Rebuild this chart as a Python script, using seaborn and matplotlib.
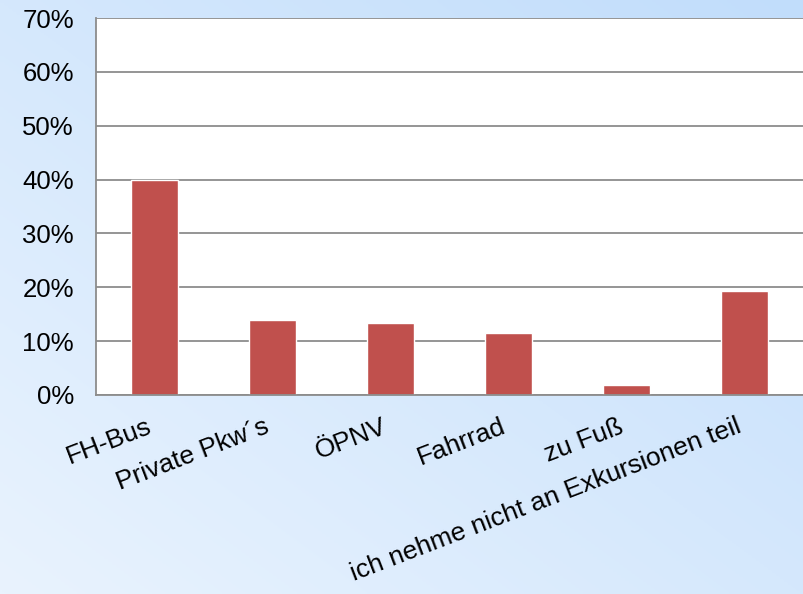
import numpy as np
import pandas as pd
import seaborn as sns
import matplotlib.pyplot as plt
from matplotlib.colors import LinearSegmentedColormap
from matplotlib.ticker import PercentFormatter, FixedLocator

# Verkehrsmittel zu den Exkursionen
categories = [
    "FH-Bus",
    "Private Pkw´s",
    "ÖPNV",
    "Fahrrad",
    "zu Fuß",
    "ich nehme nicht an Exkursionen teil",
]
shares = [40.0, 13.9, 13.3, 11.6, 1.8, 19.3]

df = pd.DataFrame({"Kategorie": categories, "Anteil": shares})

sns.set_style("white")
plt.rcParams["font.family"] = ["Liberation Sans", "DejaVu Sans"]
plt.rcParams["font.size"] = 19
plt.rcParams["text.color"] = "black"
plt.rcParams["xtick.color"] = "black"
plt.rcParams["ytick.color"] = "black"

fig = plt.figure(figsize=(8.04, 5.94), dpi=100)

# blue gradient background (light at bottom left, darker at top right)
bg = fig.add_axes([0, 0, 1, 1], zorder=-10)
gx, gy = np.meshgrid(np.linspace(0, 1, 200), np.linspace(0, 1, 200))
grad = 0.5 * gx + 0.5 * (1 - gy)
cmap = LinearSegmentedColormap.from_list("bg", ["#E9F3FE", "#C1DDFB"])
bg.imshow(grad, cmap=cmap, aspect="auto", extent=[0, 1, 0, 1], origin="upper")
bg.axis("off")

ax = fig.add_axes([96 / 804, 1 - 395 / 594, 707 / 804, 377 / 594])
ax.set_facecolor("white")

sns.barplot(data=df, x="Kategorie", y="Anteil", color="#C0504D",
            width=0.4, saturation=1, ax=ax)

ax.set_xlim(-0.5, len(categories) - 0.5)
ax.set_ylim(0, 70)
ax.set_yticks(range(0, 71, 10))
ax.yaxis.set_major_formatter(PercentFormatter(decimals=0))
ax.grid(axis="y", color="#8C8C8C", linewidth=1.3)
ax.set_axisbelow(True)

ax.set_xlabel("")
ax.set_ylabel("")

for side in ["top", "right"]:
    ax.spines[side].set_visible(False)
for side in ["left", "bottom"]:
    ax.spines[side].set_color("#8C8C8C")
    ax.spines[side].set_linewidth(1.3)

ax.tick_params(axis="y", direction="out", length=5, width=1.3,
               color="#8C8C8C", labelcolor="black", pad=11, labelsize=18.5)
ax.tick_params(axis="x", which="major", length=0, pad=14,
               labelcolor="black", labelsize=19)
ax.xaxis.set_minor_locator(FixedLocator(np.arange(0.5, len(categories), 1)))
ax.tick_params(axis="x", which="minor", direction="in", length=5,
               width=1.3, color="#8C8C8C")
plt.setp(ax.get_xticklabels(), rotation=21, ha="right")

fig.savefig("out.png", dpi=100)
